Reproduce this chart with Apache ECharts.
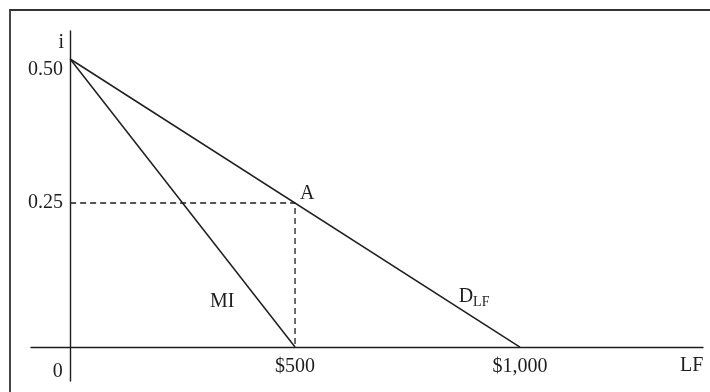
<!DOCTYPE html>
<html>
<head>
<meta charset="utf-8" />
<title>Loanable funds</title>
<script src="https://cdn.jsdelivr.net/npm/echarts@6/dist/echarts.min.js"></script>
<style>
	html, body { margin: 0; padding: 0; background: #fff; }
	#main { width: 710px; height: 392px; }
</style>
</head>
<body>
<div id="main"></div>
<script>
	// data
	var demandLine = [[0, 0.5], [1000, 0]];   // D_LF
	var miLine = [[0, 0.5], [500, 0]];         // MI
	var guideLine = [[0, 0.25], [500, 0.25], [500, 0]];
	var pointA = [500, 0.25];
	var xTicks = [0, 500, 1000];
	var xTickText = ['0', '$500', '$1,000'];
	var yTicks = [0.25, 0.5];
	var yTickText = ['0.25', '0.50'];
	// where the line names sit
	var lineNames = [
		{ name: 'MI', value: [338, 0.078] },
		{ name: 'DLF', value: [898, 0.088] }
	];

	var ink = '#1e1e1e';
	var serif = 'Liberation Serif';

	var myChart = echarts.init(document.getElementById('main'));

	// labels stay on the grid edge, so pull them back to the axis lines
	var option = {
		animation: false,
		backgroundColor: '#fff',
		textStyle: { fontFamily: serif },
		grid: { left: 31, right: 7, top: 31, bottom: 11, containLabel: false, outerBoundsMode: 'none' },
		graphic: [{
			type: 'rect',
			shape: { x: 10, y: 10, width: 760, height: 420 },
			style: { fill: 'none', stroke: '#333', lineWidth: 1.8 },
			silent: true
		}],
		xAxis: {
			type: 'value',
			min: -87,
			max: 1407,
			name: 'LF',
			nameLocation: 'end',
			nameGap: -23,
			nameTextStyle: { fontFamily: serif, fontSize: 20, color: ink, verticalAlign: 'top', padding: [9, 0, 0, 0] },
			axisLine: { onZero: true, lineStyle: { color: ink, width: 1.4 } },
			axisTick: { show: false },
			splitLine: { show: false },
			axisLabel: {
				customValues: xTicks,
				margin: -24,
				fontFamily: serif,
				fontSize: 20,
				color: ink,
				formatter: function (v) {
					var t = xTickText[xTicks.indexOf(v)];
					return v === 0 ? '{z|' + t + '}' : t;
				},
				rich: {
					z: { fontFamily: serif, fontSize: 20, color: ink, padding: [5, 25, 0, 0] }
				}
			}
		},
		yAxis: {
			type: 'value',
			min: -0.059,
			max: 0.5486,
			name: 'i',
			nameLocation: 'end',
			nameGap: -2,
			nameTextStyle: { fontFamily: serif, fontSize: 20, color: ink, align: 'right', verticalAlign: 'top', padding: [0, 6, 0, 0] },
			axisLine: { onZero: true, lineStyle: { color: ink, width: 1.4 } },
			axisTick: { show: false },
			splitLine: { show: false },
			axisLabel: {
				customValues: yTicks,
				margin: -32,
				fontFamily: serif,
				fontSize: 20,
				color: ink,
				formatter: function (v) {
					var t = yTickText[yTicks.indexOf(v)];
					return v === 0.5 ? '{h|' + t + '}' : t;
				},
				rich: {
					h: { fontFamily: serif, fontSize: 20, color: ink, padding: [22, 0, 0, 0] }
				}
			}
		},
		series: [
			{
				name: 'D',
				type: 'line',
				data: demandLine,
				symbol: 'none',
				lineStyle: { color: ink, width: 1.5 }
			},
			{
				name: 'MI',
				type: 'line',
				data: miLine,
				symbol: 'none',
				lineStyle: { color: ink, width: 1.5 }
			},
			{
				name: 'guide',
				type: 'line',
				data: guideLine,
				symbol: 'none',
				lineStyle: { color: ink, width: 1.3, type: [6, 4] }
			},
			{
				name: 'A',
				type: 'scatter',
				data: [pointA],
				symbolSize: 0,
				itemStyle: { opacity: 1 },
				label: {
					show: true,
					position: 'right',
					distance: 5,
					offset: [0, -9],
					formatter: 'A',
					fontFamily: serif,
					fontSize: 20,
					color: ink
				}
			},
			{
				name: 'names',
				type: 'scatter',
				data: lineNames,
				symbolSize: 0,
				itemStyle: { opacity: 1 },
				label: {
					show: true,
					position: 'inside',
					fontFamily: serif,
					fontSize: 20,
					color: ink,
					formatter: function (p) {
						return p.name === 'DLF' ? '{d|D}{s|LF}' : p.name;
					},
					rich: {
						d: { fontFamily: serif, fontSize: 20, color: ink, verticalAlign: 'bottom' },
						s: { fontFamily: serif, fontSize: 14, color: ink, verticalAlign: 'bottom', padding: [0, 0, -3, 0] }
					}
				}
			}
		]
	};

	myChart.setOption(option);
</script>
</body>
</html>
